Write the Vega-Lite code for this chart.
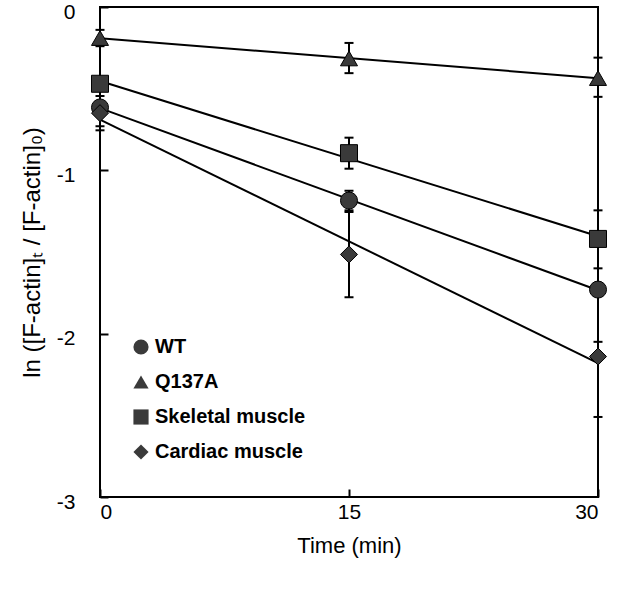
{
  "$schema": "https://vega.github.io/schema/vega-lite/v6.json",
  "width": 498,
  "height": 490,
  "autosize": {"type": "none"},
  "padding": {"left": 100, "top": 7, "right": 42, "bottom": 95},
  "background": "white",
  "config": {
    "view": {"stroke": "black", "strokeWidth": 2},
    "font": "Liberation Sans",
    "axis": {
      "domain": false,
      "grid": false,
      "ticks": true,
      "tickColor": "black",
      "tickWidth": 2,
      "tickSize": -8,
      "labelFont": "Liberation Sans",
      "labelFontSize": 21,
      "labelColor": "black",
      "titleFont": "Liberation Sans",
      "titleFontSize": 22,
      "titleFontWeight": "normal",
      "titleColor": "black"
    }
  },
  "datasets": {
    "points": [
      {"series": "WT", "time": 0, "value": -0.615, "lo": -0.73, "hi": -0.5},
      {"series": "WT", "time": 15, "value": -1.185, "lo": -1.245, "hi": -1.125},
      {"series": "WT", "time": 30, "value": -1.73, "lo": -2.05, "hi": -1.41},
      {"series": "Q137A", "time": 0, "value": -0.19, "lo": -0.24, "hi": -0.14},
      {"series": "Q137A", "time": 15, "value": -0.315, "lo": -0.405, "hi": -0.22},
      {"series": "Q137A", "time": 30, "value": -0.435, "lo": -0.55, "hi": -0.31},
      {"series": "Skeletal muscle", "time": 0, "value": -0.47, "lo": -0.5, "hi": -0.44},
      {"series": "Skeletal muscle", "time": 15, "value": -0.895, "lo": -0.99, "hi": -0.8},
      {"series": "Skeletal muscle", "time": 30, "value": -1.42, "lo": -1.6, "hi": -1.245},
      {"series": "Cardiac muscle", "time": 0, "value": -0.65, "lo": -0.755, "hi": -0.545},
      {"series": "Cardiac muscle", "time": 15, "value": -1.515, "lo": -1.777, "hi": -1.255},
      {"series": "Cardiac muscle", "time": 30, "value": -2.14, "lo": -2.51, "hi": -1.77}
    ]
  },
  "data": {"name": "points"},
  "encoding": {
    "x": {
      "field": "time",
      "type": "quantitative",
      "scale": {"domain": [0, 30], "nice": false, "zero": false},
      "axis": {"values": [0, 15, 30], "title": "Time (min)", "labelPadding": 12, "titlePadding": 13}
    }
  },
  "layer": [
    {
      "mark": {"type": "rule", "color": "black", "strokeWidth": 2},
      "encoding": {
        "y": {
          "field": "lo",
          "type": "quantitative",
          "scale": {"domain": [-3, 0], "nice": false, "zero": false},
          "axis": {
            "values": [0, -1, -2, -3],
            "labelExpr": "datum.value == 0 ? '0' : '-' + (-datum.value)",
            "title": "ln ([F-actin]ₜ / [F-actin]₀)",
            "titleFontSize": 24,
            "labelPadding": 33,
            "labelOffset": 5,
            "titlePadding": 12
          }
        },
        "y2": {"field": "hi"}
      }
    },
    {
      "mark": {"type": "tick", "orient": "horizontal", "color": "black", "size": 9, "thickness": 2, "opacity": 1},
      "encoding": {"y": {"field": "lo", "type": "quantitative"}}
    },
    {
      "mark": {"type": "tick", "orient": "horizontal", "color": "black", "size": 9, "thickness": 2, "opacity": 1},
      "encoding": {"y": {"field": "hi", "type": "quantitative"}}
    },
    {
      "transform": [
        {"regression": "value", "on": "time", "groupby": ["series"], "extent": [0, 30]}
      ],
      "mark": {"type": "line", "color": "black", "strokeWidth": 2},
      "encoding": {
        "y": {"field": "value", "type": "quantitative"},
        "detail": {"field": "series"}
      }
    },
    {
      "mark": {"type": "point", "filled": true, "fill": "#3a3a3a", "stroke": "black", "strokeWidth": 1, "opacity": 1, "size": 290},
      "encoding": {
        "y": {"field": "value", "type": "quantitative"},
        "shape": {
          "field": "series",
          "type": "nominal",
          "scale": {
            "domain": ["WT", "Q137A", "Skeletal muscle", "Cardiac muscle"],
            "range": ["circle", "triangle-up", "square", "diamond"]
          },
          "legend": {
            "orient": "none",
            "legendX": 31,
            "legendY": 330,
            "title": null,
            "padding": 0,
            "symbolSize": 230,
            "symbolFillColor": "#3a3a3a",
            "symbolStrokeColor": "black",
            "symbolStrokeWidth": 1,
            "symbolOpacity": 1,
            "labelFont": "Liberation Sans",
            "labelFontSize": 20,
            "labelFontWeight": "bold",
            "labelColor": "black",
            "labelOffset": 4,
            "rowPadding": 15
          }
        }
      }
    }
  ]
}
